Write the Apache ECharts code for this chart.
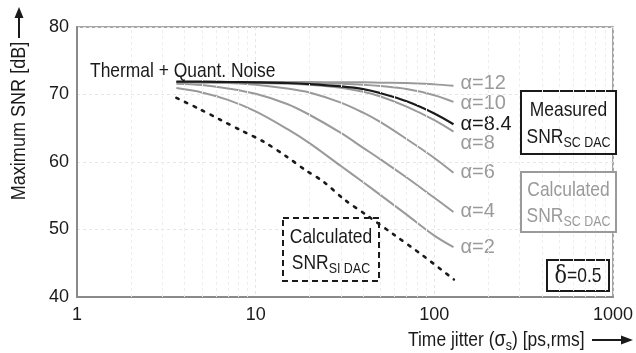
<!DOCTYPE html>
<html>
<head>
<meta charset="utf-8">
<script src="https://cdn.jsdelivr.net/npm/echarts@6/dist/echarts.min.js"></script>
<style>
  html, body { margin: 0; padding: 0; background: #fff; }
  #chart { width: 636px; height: 353px; }
</style>
</head>
<body>
<div id="chart"></div>
<script>
// Jitter sweep (ps, rms) shared by the SC DAC curves
const jitter = [3.6, 5, 7, 10, 15, 20, 30, 40, 50, 70, 100, 128];

// Calculated SNR of the SC DAC for several alpha values (dB)
const alpha12 = [71.85, 71.85, 71.85, 71.85, 71.85, 71.85, 71.8, 71.8, 71.75, 71.7, 71.5, 71.3];
const alpha10 = [71.85, 71.85, 71.85, 71.8, 71.8, 71.75, 71.6, 71.45, 71.25, 70.8, 69.9, 68.9];
const alpha8 = [71.85, 71.85, 71.8, 71.7, 71.6, 71.45, 71.0, 70.4, 69.7, 68.2, 66.2, 64.5];
const alpha6 = [71.8, 71.75, 71.7, 71.45, 70.9, 70.3, 68.8, 67.3, 65.9, 63.4, 60.6, 58.4];
const alpha4 = [71.6, 71.4, 70.9, 70.1, 68.6, 67.0, 64.3, 62.1, 60.4, 57.7, 54.7, 52.6];
const alpha2 = [70.95, 70.3, 69.2, 67.5, 64.9, 62.8, 59.4, 57.0, 55.1, 52.2, 49.1, 47.4];

// Measured SNR of the SC DAC (alpha = 8.4)
const measured84 = [71.9, 71.9, 71.85, 71.8, 71.7, 71.55, 71.2, 70.8, 70.2, 69.0, 67.2, 65.6];

// Calculated SNR of the SI DAC
const siJitter = [3.6, 4.8, 6.3, 8.4, 11.1, 14.9, 19, 23.9, 31.5, 41.4, 59.7, 85.7, 128.6];
const siSnr = [69.5, 67.9, 66.3, 64.6, 63.0, 60.8, 58.8, 57.1, 54.4, 52.2, 49.2, 46.2, 42.6];

// Axis ranges
const xTicks = [1, 10, 100, 1000];
const yTicks = [40, 50, 60, 70, 80];

const FONT = "'Liberation Sans', Arial, sans-serif";
const GRAY = '#9a9a9a';
const INK = '#1a1a1a';
const NARROW = 0.83;   // horizontal squeeze for the annotation texts

// faint vertical lines at 2..9 of every decade
const minorX = [];
for (let d = xTicks[0]; d < xTicks[xTicks.length - 1]; d *= 10) {
  for (let k = 2; k <= 9; k++) minorX.push(d * k);
}

const pairs = (xs, ys) => xs.map((x, i) => [x, ys[i]]);

function curve(name, ys, color, width, labelOffset, z) {
  return {
    name: name,
    type: 'line',
    data: pairs(jitter, ys),
    smooth: 0.35,
    showSymbol: false,
    symbol: 'none',
    z: z || 3,
    lineStyle: { color: color, width: width },
    endLabel: {
      show: true,
      formatter: name,
      color: color,
      fontFamily: FONT,
      fontSize: 20,
      distance: 7,
      offset: labelOffset || [0, 0]
    },
    emphasis: { disabled: true }
  };
}

// squeezed text block anchored at (x, y)
function label(x, y, style, extra) {
  return Object.assign({
    type: 'text', z: 10, x: x, y: y, scaleX: NARROW,
    style: Object.assign({ x: 0, y: 0, verticalAlign: 'middle' }, style)
  }, extra || {});
}

function snrRich(color) {
  return {
    m: { fontFamily: FONT, fontSize: 21, fill: color, lineHeight: 26, verticalAlign: 'middle' },
    sub: { fontFamily: FONT, fontSize: 15, fill: color, lineHeight: 12, verticalAlign: 'bottom' }
  };
}

const chart = echarts.init(document.getElementById('chart'), null, { renderer: 'canvas' });

const option = {
  animation: false,
  backgroundColor: '#fff',
  grid: {
    left: 77, right: 19, top: 27, bottom: 56,
    show: true, borderColor: '#8a8a8a', borderWidth: 1.5, backgroundColor: 'transparent'
  },
  xAxis: {
    type: 'log',
    logBase: 10,
    min: xTicks[0],
    max: xTicks[xTicks.length - 1],
    axisLine: { show: true, lineStyle: { color: '#8a8a8a', width: 2 } },
    axisTick: { show: false },
    axisLabel: { color: INK, fontFamily: FONT, fontSize: 18, margin: 9, formatter: v => String(v) },
    splitLine: { show: true, lineStyle: { color: '#e6e6e6', type: [3, 3], width: 1 } },
    minorSplitLine: { show: false }
  },
  yAxis: {
    type: 'value',
    min: yTicks[0],
    max: yTicks[yTicks.length - 1],
    interval: 10,
    axisLine: { show: true, lineStyle: { color: '#8a8a8a', width: 2 } },
    axisTick: { show: false },
    axisLabel: { color: INK, fontFamily: FONT, fontSize: 18, margin: 8 },
    splitLine: { show: true, lineStyle: { color: '#e6e6e6', type: [3, 3], width: 1 } }
  },
  series: [
    {
      type: 'line',
      data: [],
      z: 0,
      silent: true,
      markLine: {
        silent: true,
        symbol: 'none',
        label: { show: false },
        lineStyle: { color: '#eeeeee', type: [3, 3], width: 1 },
        data: minorX.map(v => ({ xAxis: v }))
      }
    },
    curve('α=2', alpha2, GRAY, 2),
    curve('α=4', alpha4, GRAY, 2),
    curve('α=6', alpha6, GRAY, 2),
    curve('α=8', alpha8, GRAY, 2, [0, 12]),
    curve('α=10', alpha10, GRAY, 2, [0, 2]),
    curve('α=12', alpha12, GRAY, 2, [0, -2]),
    curve('α=8.4', measured84, INK, 2.2, [0, 0], 4),
    {
      name: 'SI DAC',
      type: 'line',
      data: pairs(siJitter, siSnr),
      smooth: 0.3,
      showSymbol: false,
      symbol: 'none',
      z: 5,
      lineStyle: { color: INK, width: 2.6, type: [2.5, 7], cap: 'round' },
      emphasis: { disabled: true }
    }
  ],
  graphic: [
    // curve group note and axis titles
    label(90, 71, { text: 'Thermal + Quant. Noise', align: 'left', font: '21px ' + FONT, fill: INK }),
    label(19, 121, { text: 'Maximum SNR [dB]', align: 'center', font: '21px ' + FONT, fill: INK },
      { rotation: Math.PI / 2, scaleX: 0.86 }),
    { type: 'line', z: 10, shape: { x1: 19, y1: 38, x2: 19, y2: 16 }, style: { stroke: INK, lineWidth: 2 } },
    { type: 'polygon', z: 10, shape: { points: [[19, 7], [14.5, 18], [23.5, 18]] }, style: { fill: INK } },
    label(408, 340, {
      text: 'Time jitter ({s|σ}{sub|s}) [ps,rms]', align: 'left', font: '21px ' + FONT, fill: INK,
      rich: {
        s: { fontFamily: FONT, fontSize: 22, fill: INK, lineHeight: 26, verticalAlign: 'middle' },
        sub: { fontFamily: FONT, fontSize: 15, fill: INK, lineHeight: 10, verticalAlign: 'bottom' }
      }
    }),
    { type: 'line', z: 10, shape: { x1: 592, y1: 340, x2: 622, y2: 340 }, style: { stroke: INK, lineWidth: 2 } },
    { type: 'polygon', z: 10, shape: { points: [[633, 340], [621, 335.5], [621, 344.5]] }, style: { fill: INK } },

    // Measured box
    { type: 'rect', z: 1, shape: { x: 521, y: 91, width: 95, height: 63 },
      style: { fill: '#fff', stroke: INK, lineWidth: 2 } },
    label(568.5, 110, { text: 'Measured', align: 'center', font: '21px ' + FONT, fill: INK }),
    label(568.5, 137, { text: '{m|SNR}{sub|SC DAC}', align: 'center', rich: snrRich(INK) }),

    // Calculated SC box
    { type: 'rect', z: 1, shape: { x: 521, y: 172, width: 95, height: 60 },
      style: { fill: '#fff', stroke: GRAY, lineWidth: 2 } },
    label(568.5, 190, { text: 'Calculated', align: 'center', font: '21px ' + FONT, fill: GRAY }),
    label(568.5, 216, { text: '{m|SNR}{sub|SC DAC}', align: 'center', rich: snrRich(GRAY) }),

    // delta box
    { type: 'rect', z: 1, shape: { x: 547, y: 260, width: 62, height: 31 },
      style: { fill: '#fff', stroke: INK, lineWidth: 2 } },
    label(578, 276, {
      text: '{d|δ}{m|=0.5}', align: 'center',
      rich: {
        d: { fontFamily: 'DejaVu Serif', fontSize: 25, fill: INK, verticalAlign: 'middle' },
        m: { fontFamily: FONT, fontSize: 21, fill: INK, verticalAlign: 'middle' }
      }
    }),

    // Calculated SI box (dashed)
    { type: 'rect', z: 1, shape: { x: 283, y: 218, width: 96, height: 63 },
      style: { fill: '#fff', stroke: INK, lineWidth: 2, lineDash: [6, 4] } },
    label(331, 237, { text: 'Calculated', align: 'center', font: '21px ' + FONT, fill: INK }),
    label(331, 263, { text: '{m|SNR}{sub|SI DAC}', align: 'center', rich: snrRich(INK) })
  ]
};

chart.setOption(option);
</script>
</body>
</html>
